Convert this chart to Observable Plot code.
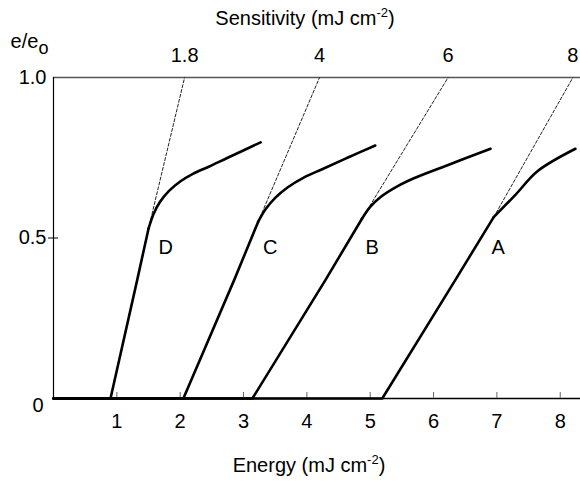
<!DOCTYPE html>
<html><head><meta charset="utf-8">
<script src="https://cdn.jsdelivr.net/npm/d3@7"></script>
<script src="https://cdn.jsdelivr.net/npm/@observablehq/plot@0.6"></script>
<style>body{margin:0;background:#fff;}</style>
</head><body><div id="chart"></div>
<script>
// Axis ticks
const xTicks = [1, 2, 3, 4, 5, 6, 7, 8];
const yTicks = [0, 0.5, 1];
const yTickLabels = ["0", "0.5", "1.0"];

// Curves (energy mJ cm-2, e/eo)
const curveNames = ["D", "C", "B", "A"];
const energyD = [0, 0.90, 1.32, 1.50, 1.58, 1.68, 1.82, 2.00, 2.20, 2.45, 2.75, 3.27];
const valueD  = [0, 0, 0.368, 0.529, 0.575, 0.612, 0.646, 0.676, 0.700, 0.722, 0.750, 0.798];
const energyC = [0, 2.05, 2.85, 3.23, 3.35, 3.50, 3.70, 3.95, 4.25, 4.64, 5.08];
const valueC  = [0, 0, 0.368, 0.550, 0.590, 0.625, 0.658, 0.688, 0.715, 0.750, 0.788];
const energyB = [0, 3.14, 4.29, 4.87, 5.00, 5.16, 5.42, 5.69, 6.21, 6.90];
const valueB  = [0, 0, 0.368, 0.560, 0.597, 0.627, 0.660, 0.686, 0.726, 0.778];
const energyA = [0, 5.19, 6.34, 6.95, 7.30, 7.64, 8.24];
const valueA  = [0, 0, 0.368, 0.565, 0.636, 0.708, 0.778];
// index where the straight part ends and the bend begins
const bendStart = [3, 3, 3, 3];

// Tangent (dashed) lines: start at the end of the linear part, end at e/eo = 1
const tangentStartE = [1.50, 3.23, 4.87, 6.95];
const tangentStartV = [0.529, 0.550, 0.560, 0.565];
const tangentEndE   = [2.07, 4.20, 6.23, 8.20];
const sensitivityLabels = ["1.8", "4", "6", "8"];

// Curve letter positions
const letterE = [1.77, 3.42, 5.03, 7.02];
const letterV = [0.47, 0.47, 0.47, 0.47];

const series = [[energyD, valueD], [energyC, valueC], [energyB, valueB], [energyA, valueA]];
const straightRows = series.flatMap(([E, V], k) =>
  E.slice(0, bendStart[k] + 1).map((x, i) => ({curve: curveNames[k], E: x, e: V[i]})));
const bendRows = series.flatMap(([E, V], k) =>
  E.slice(bendStart[k]).map((x, i) => ({curve: curveNames[k], E: x, e: V[bendStart[k] + i]})));
const tangentRows = curveNames.flatMap((c, k) => [
  {curve: c, E: tangentStartE[k], e: tangentStartV[k]},
  {curve: c, E: tangentEndE[k], e: 1}
]);
const topLabels = sensitivityLabels.map((t, k) => ({t, E: tangentEndE[k]}));
const letters = curveNames.map((c, k) => ({c, E: letterE[k], e: letterV[k]}));

const chart = Plot.plot({
  width: 580,
  height: 483,
  marginLeft: 53,
  marginRight: 0,
  marginTop: 77,
  marginBottom: 85,
  x: {domain: [0, 8.32], axis: null},
  y: {domain: [0, 1], axis: null},
  style: {fontFamily: "'Liberation Sans', Arial, sans-serif", fontSize: "20px", background: "#fff", color: "#000"},
  marks: [
    Plot.ruleY([1], {stroke: "#555", strokeWidth: 1.5}),
    Plot.ruleX([0], {y1: 0, y2: 1, stroke: "#000", strokeWidth: 1.2}),
    Plot.ruleY([0], {stroke: "#000", strokeWidth: 1.5}),
    Plot.ruleX(xTicks, {x: d => d, y1: 0, y2: 0, insetBottom: 6, stroke: "#666", strokeWidth: 1}),
    Plot.ruleY([0.5], {y: d => d, x1: 0, x2: 0, insetLeft: -5, insetRight: -5, stroke: "#000"}),
    Plot.text(xTicks, {x: d => d, y: 0, text: d => String(d), dy: 23, fill: "#000"}),
    Plot.text(yTicks.filter(v => v > 0), {x: 0, y: d => d, text: d => yTickLabels[yTicks.indexOf(d)], textAnchor: "end", dx: -7, fill: "#000"}),
    Plot.text(yTicks.filter(v => v === 0), {x: 0, y: d => d, text: d => yTickLabels[yTicks.indexOf(d)], textAnchor: "end", dx: -10, dy: 7, fill: "#000"}),
    Plot.line(tangentRows, {x: "E", y: "e", z: "curve", stroke: "#222", strokeWidth: 1, strokeDasharray: "3,2"}),
    Plot.line(straightRows, {x: "E", y: "e", z: "curve", stroke: "#000", strokeWidth: 2.6, strokeLinejoin: "round"}),
    Plot.line(bendRows, {x: "E", y: "e", z: "curve", stroke: "#000", strokeWidth: 2.6, strokeLinecap: "round", curve: "catmull-rom"}),
    Plot.text(letters, {x: "E", y: "e", text: "c", fill: "#000"}),
    Plot.text(topLabels, {x: "E", y: () => 1, text: "t", dy: -22, fill: "#000"}),
    Plot.text(["Sensitivity (mJ cm-2)"], {frameAnchor: "top", lineAnchor: "middle", dy: -59, dx: -12, fill: "#000"}),
    Plot.text(["e/eo"], {frameAnchor: "top-left", textAnchor: "middle", lineAnchor: "middle", dx: -24, dy: -36, fill: "#000"}),
    Plot.text(["Energy (mJ cm-2)"], {frameAnchor: "bottom", lineAnchor: "middle", dy: 67, dx: -8, fill: "#000"})
  ]
});

d3.select(chart).selectAll("text").each(function() {
  const t = this.textContent;
  const sel = d3.select(this);
  if (t.endsWith("cm-2)")) {
    const base = t.slice(0, -3);
    this.textContent = "";
    sel.append("tspan").text(base);
    sel.append("tspan").attr("dy", -8).attr("font-size", "13px").text("-2");
    sel.append("tspan").attr("dy", 8).text(")");
  } else if (t === "e/eo") {
    this.textContent = "";
    sel.append("tspan").text("e/e");
    sel.append("tspan").attr("dy", 6).attr("font-size", "18px").text("o");
  }
});

document.getElementById("chart").appendChild(chart);
</script>
</body></html>
